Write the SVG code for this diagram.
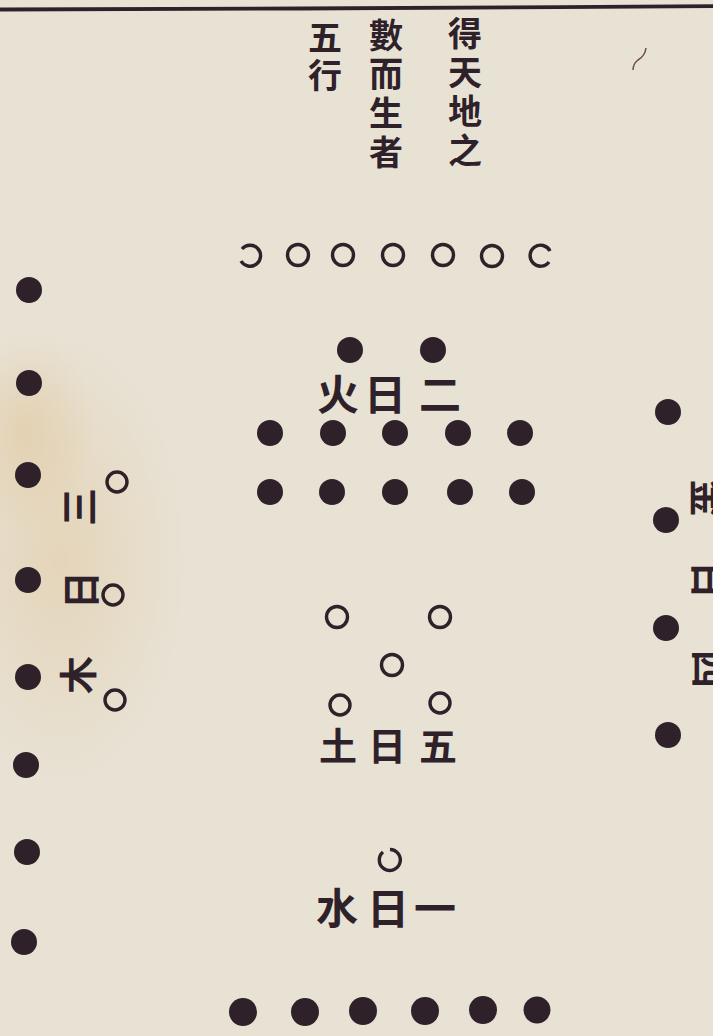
<svg xmlns="http://www.w3.org/2000/svg" width="713" height="1036" viewBox="0 0 713 1036">
  <defs>
    <style>
      .ink { fill: #2f2129; }
      .open { fill: none; stroke: #2f2129; stroke-width: 3.4; }
      .ch { font-family: "Noto Sans CJK TC", "Noto Sans CJK SC", serif; fill: #2f2129; text-anchor: middle; dominant-baseline: central; font-weight: 700; }
      .col { font-family: "Noto Sans CJK TC", "Noto Sans CJK SC", serif; fill: #2f2129; font-weight: 700; font-size: 34px; writing-mode: vertical-rl; text-anchor: start; }
      .label { font-size: 42px; }
      .side { font-size: 38px; }
    </style>
    <radialGradient id="stain" cx="0.5" cy="0.5" r="0.5">
      <stop offset="0" stop-color="#dcb679" stop-opacity="0.3"/>
      <stop offset="1" stop-color="#dcb679" stop-opacity="0"/>
    </radialGradient>
  </defs>

  <!-- paper -->
  <rect x="0" y="0" width="713" height="1036" fill="#e8e2d5"/>
  <ellipse cx="60" cy="560" rx="130" ry="230" fill="url(#stain)"/>
  <ellipse cx="25" cy="430" rx="70" ry="100" fill="url(#stain)"/>

  <!-- top rule -->
  <path d="M0,9.5 L300,8.5 L560,7.2 L713,6.2" fill="none" stroke="#2f2129" stroke-width="3.8"/>
  <!-- stray hair mark -->
  <path d="M646,48 Q645,56 638,60 Q633,64 633,70" fill="none" stroke="#6a4a4a" stroke-width="1.5"/>

  <!-- title -->
  <g id="title">
    <text class="col" x="465" y="16" letter-spacing="5">得天地之</text>
    <text class="col" x="386" y="18" letter-spacing="5">數而生者</text>
    <text class="col" x="325" y="20" letter-spacing="4">五行</text>
  </g>

  <!-- seven open circles -->
  <g id="seven">
    <path class="open" d="M242,249 A10.5,10.5 0 1 1 241,261"/>
    <circle class="open" cx="298" cy="255" r="10.5"/>
    <circle class="open" cx="343" cy="255" r="10.5"/>
    <circle class="open" cx="393" cy="255" r="10.5"/>
    <circle class="open" cx="443" cy="255" r="10.5"/>
    <circle class="open" cx="492" cy="256" r="10.5"/>
    <path class="open" d="M549,262 A10.5,10.5 0 1 1 550,251"/>
  </g>

  <!-- fire: two -->
  <g id="fire">
    <circle class="ink" cx="350" cy="350" r="13"/>
    <circle class="ink" cx="433" cy="350" r="13"/>
    <text class="ch label" x="338" y="391">火</text>
    <text class="ch label" x="385" y="391">日</text>
    <text class="ch label" x="440" y="391">二</text>
  </g>

  <!-- ten dots -->
  <g id="ten">
    <circle class="ink" cx="270" cy="433" r="13"/>
    <circle class="ink" cx="333" cy="433" r="13"/>
    <circle class="ink" cx="395" cy="433" r="13"/>
    <circle class="ink" cx="458" cy="433" r="13"/>
    <circle class="ink" cx="520" cy="433" r="13"/>
    <circle class="ink" cx="270" cy="492" r="13"/>
    <circle class="ink" cx="332" cy="492" r="13"/>
    <circle class="ink" cx="395" cy="492" r="13"/>
    <circle class="ink" cx="460" cy="492" r="13"/>
    <circle class="ink" cx="522" cy="492" r="13"/>
  </g>

  <!-- earth: five -->
  <g id="earth">
    <circle class="open" cx="337" cy="617" r="10.5"/>
    <circle class="open" cx="440" cy="617" r="10.5"/>
    <circle class="open" cx="392" cy="665" r="10.5"/>
    <circle class="open" cx="340" cy="705" r="10"/>
    <circle class="open" cx="440" cy="703" r="10"/>
    <text class="ch side" x="338" y="743">土</text>
    <text class="ch side" x="387" y="743">日</text>
    <text class="ch side" x="438" y="743">五</text>
  </g>

  <!-- water: one -->
  <g id="water">
    <path class="open" d="M383,852 A10.5,10.5 0 1 0 390,849.5"/>
    <text class="ch label" x="337" y="905">水</text>
    <text class="ch label" x="388" y="905">日</text>
    <text class="ch label" x="435" y="905">一</text>
  </g>

  <!-- bottom six dots -->
  <g id="six">
    <circle class="ink" cx="243" cy="1012" r="14"/>
    <circle class="ink" cx="305" cy="1012" r="14"/>
    <circle class="ink" cx="363" cy="1011" r="14"/>
    <circle class="ink" cx="425" cy="1011" r="14"/>
    <circle class="ink" cx="483" cy="1010" r="14"/>
    <circle class="ink" cx="537" cy="1010" r="13.5"/>
  </g>

  <!-- left eight dots -->
  <g id="eight">
    <circle class="ink" cx="29" cy="290" r="13"/>
    <circle class="ink" cx="29" cy="383" r="13"/>
    <circle class="ink" cx="28" cy="475" r="13"/>
    <circle class="ink" cx="28" cy="580" r="13"/>
    <circle class="ink" cx="28" cy="677" r="13"/>
    <circle class="ink" cx="26" cy="765" r="13"/>
    <circle class="ink" cx="27" cy="852" r="13"/>
    <circle class="ink" cx="24" cy="942" r="13"/>
  </g>

  <!-- wood: three -->
  <g id="wood">
    <text class="ch side" transform="translate(76,507) rotate(-90)">三</text>
    <text class="ch side" transform="translate(78,590) rotate(-90)">日</text>
    <text class="ch side" transform="translate(75,675) rotate(-90)">木</text>
    <circle class="open" cx="117" cy="482" r="10"/>
    <circle class="open" cx="113" cy="595" r="10"/>
    <circle class="open" cx="115" cy="700" r="10"/>
  </g>

  <!-- metal: four -->
  <g id="metal">
    <circle class="ink" cx="668" cy="412" r="13"/>
    <circle class="ink" cx="666" cy="520" r="13"/>
    <circle class="ink" cx="666" cy="628" r="13"/>
    <circle class="ink" cx="668" cy="735" r="13"/>
    <text class="ch side" transform="translate(710,498) rotate(90)">金</text>
    <text class="ch side" transform="translate(711,580) rotate(90)">日</text>
    <text class="ch side" transform="translate(711,669) rotate(90)">四</text>
  </g>

  <g id="connectors"/>
</svg>
